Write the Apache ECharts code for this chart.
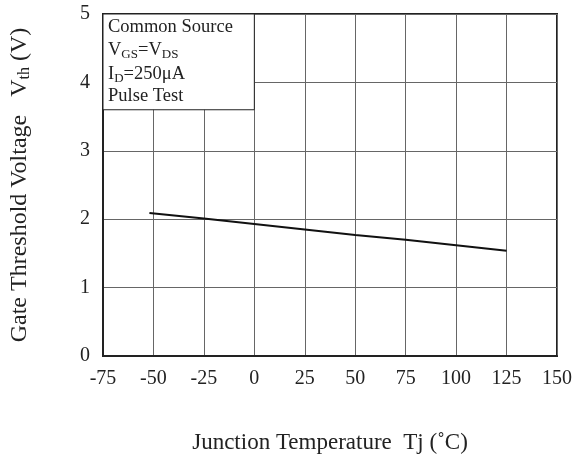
<!DOCTYPE html>
<html><head><meta charset="utf-8">
<script src="https://cdn.jsdelivr.net/npm/echarts@6/dist/echarts.min.js"></script>
<style>html,body{margin:0;padding:0;background:#fff}#c{width:575px;height:459px}</style>
</head><body><div id="c"></div>
<script>
var temps = [-52, -25, 0, 25, 50, 75, 100, 125];
var vth = [2.09, 2.01, 1.93, 1.85, 1.77, 1.70, 1.62, 1.54];
var xTicks = [-75, -50, -25, 0, 25, 50, 75, 100, 125, 150];
var yTicks = [0, 1, 2, 3, 4, 5];
var noteLines = ['{n|Common Source}', '{n|V}{s|GS}{n|=V}{s|DS}', '{n|I}{s|D}{n|=250μA}', '{n|Pulse Test}'];

var font = 'Liberation Serif, Times New Roman, serif';
var ink = '#222';
var chart = echarts.init(document.getElementById('c'));
chart.setOption({
  animation: false,
  grid: {left: 101, right: 12, top: 14, bottom: 103, show: true, borderColor: ink, borderWidth: 2, backgroundColor: 'transparent'},
  xAxis: {
    type: 'value', min: xTicks[0], max: xTicks[xTicks.length-1], interval: 25,
    name: 'Junction Temperature  Tj (˚C)', nameLocation: 'middle', nameGap: 75,
    nameTextStyle: {fontFamily: font, fontSize: 23, color: ink},
    axisLine: {show: true, onZero: false, lineStyle: {color: ink, width: 2}},
    axisTick: {show: false},
    axisLabel: {fontFamily: font, fontSize: 20, color: ink, margin: 13},
    splitLine: {show: true, lineStyle: {color: '#666', width: 1}}
  },
  yAxis: {
    type: 'value', min: yTicks[0], max: yTicks[yTicks.length-1], interval: 1,
    name: 'Gate Threshold Voltage   {v|V}{s|th} (V)', nameLocation: 'middle', nameGap: 70,
    nameTextStyle: {fontFamily: font, fontSize: 24, color: ink,
      rich: {v: {fontFamily: font, fontSize: 24, color: ink, lineHeight: 26},
             s: {fontFamily: font, fontSize: 16, color: ink, verticalAlign: 'bottom', lineHeight: 17}}},
    axisLine: {show: true, onZero: false, lineStyle: {color: ink, width: 2}},
    axisTick: {show: false},
    axisLabel: {fontFamily: font, fontSize: 20, color: ink, margin: 13},
    splitLine: {show: true, lineStyle: {color: '#666', width: 1}}
  },
  series: [{
    type: 'line', data: temps.map(function(t, i){ return [t, vth[i]]; }),
    showSymbol: false, lineStyle: {color: '#111', width: 2}, z: 5
  }]
});

var p0 = chart.convertToPixel({gridIndex: 0}, [-75, 5]);
var p1 = chart.convertToPixel({gridIndex: 0}, [0, 3.6]);
var rich = {
  n: {fontFamily: font, fontSize: 18.5, color: ink, lineHeight: 22},
  s: {fontFamily: font, fontSize: 13, color: ink, verticalAlign: 'bottom', lineHeight: 14}
};
var lineY = [13, 36.5, 60, 82];
var g = [{
  type: 'rect', z: 10,
  shape: {x: p0[0], y: p0[1], width: p1[0]-p0[0], height: p1[1]-p0[1]},
  style: {fill: '#fff', stroke: ink, lineWidth: 1}
}];
noteLines.forEach(function(t, i){
  g.push({type: 'text', z: 11, x: p0[0] + 5, y: p0[1] + lineY[i],
    style: {text: t, rich: rich, fill: ink, verticalAlign: 'middle', align: 'left'}});
});
chart.setOption({graphic: g});
</script></body></html>
